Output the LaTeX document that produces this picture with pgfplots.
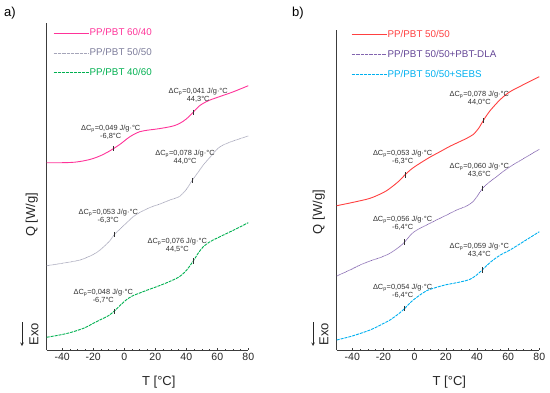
\documentclass[border=0pt]{standalone}
\usepackage{fontspec}
\setmainfont{Liberation Sans}
\usepackage{pgfplots}
\pgfplotsset{compat=1.18}
\definecolor{pinkc}{RGB}{255,51,153}
\definecolor{grayl}{RGB}{165,165,185}
\definecolor{grayt}{RGB}{125,125,155}
\definecolor{greenc}{RGB}{0,176,80}
\definecolor{redc}{RGB}{255,64,64}
\definecolor{purplec}{RGB}{130,100,175}
\definecolor{purplet}{RGB}{100,70,150}
\definecolor{cyanc}{RGB}{0,176,240}
\definecolor{axc}{RGB}{60,60,60}
\definecolor{annc}{RGB}{50,50,50}

\pgfplotstableread{
T y
-50 187.3
-40 187.3
-32 187.8
-25 189.5
-20 191.5
-15 194.5
-10 198.5
-6.8 201.5
-2 206.5
2 211.5
6 215.5
10 218.3
15 219.8
21 221
27 222.5
32 224.2
36 226.8
40 231
44.3 237.5
48 243.5
51 246.7
55 249.8
61.7 253.5
70 258
80 264.3
}\pinkdata
\pgfplotstableread{
T y
-50 84.3
-40 86.7
-28.5 90
-20 95.5
-15.6 100
-10 108
-6.3 115.5
-3 120.5
0 125
5.8 133.3
10 137.5
16.6 142.5
23 146
29.5 150
33 151.8
36 154
40 160.5
44 170
48 178.5
51 185
56 194
59 199.5
62 203.5
66 206.5
72 210
80 214
}\graydata
\pgfplotstableread{
T y
-50 12.7
-40 15.5
-32.8 18.3
-25 22.5
-20 26.7
-15 30.5
-10 34.5
-6.7 38.5
-3 44
0 48.5
3 52
6 54.6
10 57
15 60
20.9 63.3
27 67
33.8 71.7
37 75
40.3 80
44.5 89
48 97.5
51 103.3
55 108
59.6 111.7
70 119.5
80 127.3
}\greendata
\pgfplotstableread{
T y
-50 144.3
-40 147.5
-28.6 151.7
-20 157.5
-15.8 161.7
-10 169
-6.3 175
-2 181
3.4 186.7
10 193
16.3 198.3
23 204
31.2 210
35 213
37.6 215.5
41 221.5
44 229.3
48 238.5
52.6 246.7
56 252
61.2 258.3
70 265.5
80 273.3
}\reddata
\pgfplotstableread{
T y
-50 74
-41.5 80
-35 85
-28.6 89
-22 92.5
-15.8 96.7
-10 103
-6.4 108
-2 116
2 120.5
7.7 125
14 130
20.6 135
27 140
32 143
35 145.5
37.6 148.5
40.5 154.5
43.6 161.7
48 168
52.6 173.3
56 177.5
61.2 183.3
70 191.5
80 200.7
}\purpledata
\pgfplotstableread{
T y
-50 10
-40 14
-28.6 20
-20 26.5
-15.8 30
-10 36.5
-6.4 41.5
-2 48.5
3.4 55
8 59.5
14.1 62.7
20 65.2
27 67.3
32 69
35.5 70.7
39 74
43.4 80
47 85.5
50.4 90
55 95
61.2 100
70 108.5
80 118.3
}\cyandata

\tikzset{
  ann/.style={font=\fontsize{7.4}{8}\selectfont, text=annc, align=center},
  solidl/.style={line width=0.9pt},
  dotl/.style={line width=0.7pt, dash pattern=on 0.8pt off 0.5pt},
  dashl/.style={line width=0.9pt, dash pattern=on 3pt off 1pt},
}
\pgfplotsset{
  dsc/.style={
    scale only axis, clip=false,
    xmin=-50, xmax=80, ymin=0,
    axis x line*=bottom, axis y line*=left,
    axis line style={-, axc, line width=0.6pt},
    xtick={-40,-20,...,80}, minor x tick num=3,
    tick align=inside, major tick length=2.5pt, minor tick length=1.5pt,
    tick style={axc, line width=0.5pt},
    ytick=\empty,
    ticklabel style={font=\fontsize{10.5}{12}\selectfont, text=black!85},
    /pgf/number format/assume math mode=true,
    xlabel={T [°C]}, ylabel={Q [W/g]},
    label style={font=\fontsize{13}{14}\selectfont, text=black!85},
    xlabel style={at={(axis description cs:0.556,0)}, anchor=center, yshift=-32pt},
    legend style={draw=none, fill=none, inner sep=0pt, anchor=north west,
      font=\fontsize{9.8}{11}\selectfont, row sep=10.3pt,
      nodes={inner sep=0.5pt}},
    legend cell align=left,
    legend image code/.code={\draw[##1] (0pt,0pt) -- (35pt,0pt);},
    smooth, tension=0.5,
  },
  inflm/.style={only marks, mark=|, mark size=2.6pt, mark options={annc, line width=0.5pt, solid}, forget plot},
}

\begin{document}
\begin{tikzpicture}
\path[use as bounding box] (0,0) rectangle (550pt,392pt);
\node[font=\fontsize{13}{15}\selectfont] at (10pt,379pt) {a)};
\node[font=\fontsize{13}{15}\selectfont] at (298pt,379pt) {b)};

\begin{axis}[dsc, at={(46.7pt,42pt)}, anchor=south west, width=201.6pt, height=327pt, ymax=327,
  ylabel style={at={(axis description cs:-0.074,0.413)}, anchor=center},
  legend style={at={(axis cs:-45.9,322)}}]
\addplot[pinkc, solidl] table[x=T,y=y] {\pinkdata};
\addlegendentry{\textcolor{pinkc}{PP/PBT 60/40}}
\addplot[grayl, dotl] table[x=T,y=y] {\graydata};
\addlegendentry{\textcolor{grayt}{PP/PBT 50/50}}
\addplot[greenc, dashl] table[x=T,y=y] {\greendata};
\addlegendentry{\textcolor{greenc}{PP/PBT 40/60}}
\addplot[inflm] coordinates {(-6.8,201.5) (44.3,237.5) (-6.3,115.5) (44.0,169.5) (-6.7,38.5) (44.5,89)};
\node[ann] at (axis cs:47.7,254.5) {ΔC\textsubscript{p}=0,041 J/g·°C\\44,3°C};
\node[ann] at (axis cs:-8.7,218.2) {ΔC\textsubscript{p}=0,049 J/g·°C\\-6,8°C};
\node[ann] at (axis cs:39.2,193) {ΔC\textsubscript{p}=0,078 J/g·°C\\44,0°C};
\node[ann] at (axis cs:-10.3,134.2) {ΔC\textsubscript{p}=0,053 J/g·°C\\-6,3°C};
\node[ann] at (axis cs:34.2,104.7) {ΔC\textsubscript{p}=0,076 J/g·°C\\44,5°C};
\node[ann] at (axis cs:-13.5,54) {ΔC\textsubscript{p}=0,048 J/g·°C\\-6,7°C};
\end{axis}

\begin{axis}[dsc, at={(336.7pt,42pt)}, anchor=south west, width=202.6pt, height=320pt, ymax=320,
  ylabel style={at={(axis description cs:-0.089,0.431)}, anchor=center},
  legend style={at={(axis cs:-40.8,320.5)}}]
\addplot[redc, solidl] table[x=T,y=y] {\reddata};
\addlegendentry{\textcolor{redc}{PP/PBT 50/50}}
\addplot[purplec, dotl] table[x=T,y=y] {\purpledata};
\addlegendentry{\textcolor{purplet}{PP/PBT 50/50+PBT-DLA}}
\addplot[cyanc, dashl] table[x=T,y=y] {\cyandata};
\addlegendentry{\textcolor{cyanc}{PP/PBT 50/50+SEBS}}
\addplot[inflm] coordinates {(-6.3,175) (44.0,229.3) (-6.4,108) (43.6,161.7) (-6.4,41.5) (43.4,80)};
\node[ann] at (axis cs:41.5,252.2) {ΔC\textsubscript{p}=0,078 J/g·°C\\44,0°C};
\node[ann] at (axis cs:-7.7,193) {ΔC\textsubscript{p}=0,053 J/g·°C\\-6,3°C};
\node[ann] at (axis cs:41.5,180) {ΔC\textsubscript{p}=0,060 J/g·°C\\43,6°C};
\node[ann] at (axis cs:-7.7,126.4) {ΔC\textsubscript{p}=0,056 J/g·°C\\-6,4°C};
\node[ann] at (axis cs:41.5,99.7) {ΔC\textsubscript{p}=0,059 J/g·°C\\43,4°C};
\node[ann] at (axis cs:-7.7,58.9) {ΔC\textsubscript{p}=0,054 J/g·°C\\-6,4°C};
\end{axis}

\node[rotate=90, font=\fontsize{13}{14}\selectfont, text=black!85] at (34pt,58pt) {Exo};
\draw[->, >=stealth, line width=0.6pt, black!85] (22pt,70pt) -- (22pt,46pt);
\node[rotate=90, font=\fontsize{13}{14}\selectfont, text=black!85] at (324pt,58pt) {Exo};
\draw[->, >=stealth, line width=0.6pt, black!85] (313pt,70pt) -- (313pt,46pt);
\end{tikzpicture}
\end{document}
